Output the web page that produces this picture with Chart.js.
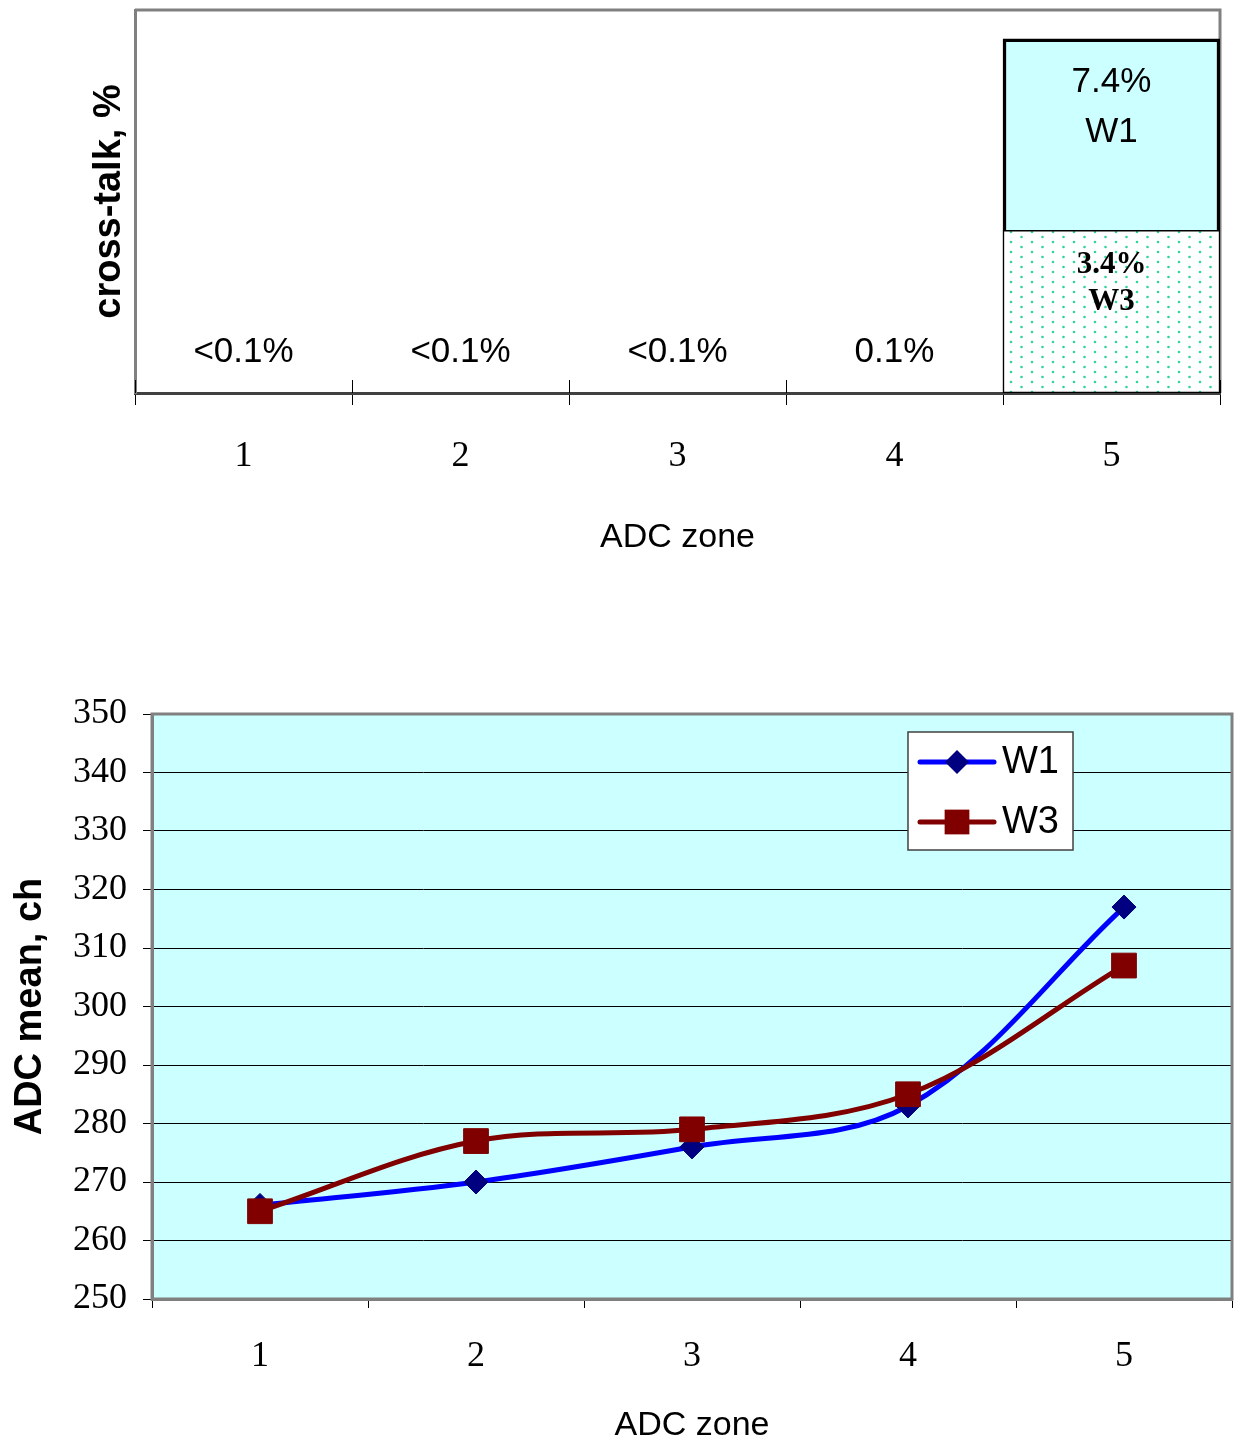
<!DOCTYPE html>
<html>
<head>
<meta charset="utf-8">
<script src="https://cdn.jsdelivr.net/npm/chart.js@4.4.1/dist/chart.umd.min.js"></script>
<style>
  body { margin: 0; background: #fff; }
  #top { position: absolute; left: 0; top: 0; width: 1235px; height: 580px; }
  #bottom { position: absolute; left: 0; top: 580px; width: 1235px; height: 863px; }
</style>
</head>
<body>
<div id="top"><canvas id="crossTalk"></canvas></div>
<div id="bottom"><canvas id="adcMean"></canvas></div>
<script>
// ADC zones
const zones = ['1', '2', '3', '4', '5'];

// cross-talk, %
const w1Cross = [null, null, null, null, 7.4];
const w3Cross = [null, null, null, null, 3.4];
const smallCross = ['<0.1%', '<0.1%', '<0.1%', '0.1%', ''];

// ADC mean, ch
const w1Mean = [266, 270, 276, 283, 317];
const w3Mean = [265, 277, 279, 285, 307];
const meanMin = 250, meanMax = 350, meanStep = 10;

const SERIF = '"Liberation Serif", "Times New Roman", serif';
const SANS = '"Liberation Sans", Arial, sans-serif';
const GRAY = '#808080';

function dotPattern() {
  const c = document.createElement('canvas');
  c.width = 21; c.height = 10;
  const g = c.getContext('2d');
  g.fillStyle = '#fff';
  g.fillRect(0, 0, 21, 10);
  g.fillStyle = '#2fd4a2';
  [[3, 2], [13.5, 7]].forEach(([x, y]) => {
    g.beginPath(); g.arc(x, y, 1.3, 0, Math.PI * 2); g.fill();
  });
  return g.createPattern(c, 'repeat');
}

// ---------- top: cross-talk ----------
const topPlugin = {
  id: 'topDecor',
  beforeDatasetsDraw(chart) {
    const { ctx, chartArea: a, scales } = chart;
    ctx.save();
    // gray frame (top + right)
    ctx.strokeStyle = GRAY;
    ctx.lineWidth = 3;
    ctx.beginPath();
    ctx.moveTo(a.left, a.top);
    ctx.lineTo(a.right, a.top);
    ctx.lineTo(a.right, a.bottom);
    ctx.stroke();
    // tick marks crossing the axis
    ctx.strokeStyle = '#000';
    ctx.lineWidth = 1;
    const xs = scales.x;
    for (let i = 0; i <= zones.length; i++) {
      const px = Math.round(xs.left + i * (xs.right - xs.left) / zones.length) + 0.5;
      ctx.beginPath();
      ctx.moveTo(px, a.bottom - 13);
      ctx.lineTo(px, a.bottom);
      ctx.stroke();
    }
    ctx.restore();
  },
  afterDatasetsDraw(chart) {
    const { ctx, scales } = chart;
    ctx.save();
    ctx.fillStyle = '#000';
    ctx.textAlign = 'center';
    ctx.textBaseline = 'middle';
    // small values in zones 1-4
    ctx.font = '35px ' + SANS;
    const y0 = scales.y.getPixelForValue(0);
    smallCross.forEach((t, i) => {
      if (t) ctx.fillText(t, scales.x.getPixelForValue(i), y0 - 41);
    });
    // labels inside the zone-5 boxes
    chart.data.datasets.forEach((ds, di) => {
      const meta = chart.getDatasetMeta(di);
      ds.data.forEach((v, i) => {
        if (v == null) return;
        const bar = meta.data[i];
        const lines = [v.toFixed(1) + '%', ds.label];
        if (di === 0) {
          ctx.font = '35px ' + SANS;
          ctx.fillText(lines[0], bar.x, bar.y + 44);
          ctx.fillText(lines[1], bar.x, bar.y + 94);
        } else {
          ctx.font = 'bold 31px ' + SERIF;
          ctx.fillText(lines[0], bar.x, bar.y + 35);
          ctx.fillText(lines[1], bar.x, bar.y + 72);
        }
      });
    });
    ctx.restore();
  }
};

new Chart(document.getElementById('crossTalk'), {
  type: 'bar',
  data: {
    labels: zones,
    datasets: [
      {
        label: 'W1',
        data: w1Cross,
        backgroundColor: '#ccffff',
        borderColor: '#000',
        borderWidth: 3.5,
        borderSkipped: false,
        order: 1
      },
      {
        label: 'W3',
        data: w3Cross,
        backgroundColor: dotPattern(),
        borderColor: '#000',
        borderWidth: 1.5,
        borderSkipped: false,
        order: 0
      }
    ]
  },
  options: {
    responsive: true,
    maintainAspectRatio: false,
    animation: false,
    layout: { autoPadding: false, padding: { top: 10, right: 15, bottom: 17, left: 0 } },
    datasets: { bar: { grouped: false, barPercentage: 1, categoryPercentage: 1 } },
    plugins: { legend: { display: false }, tooltip: { enabled: false } },
    scales: {
      x: {
        grid: { display: true, drawOnChartArea: false, offset: true, tickLength: 12, color: '#000', lineWidth: 1 },
        border: { color: '#404040', width: 3 },
        ticks: { color: '#000', padding: 30, font: { family: SERIF, size: 36 } },
        title: { display: true, text: 'ADC zone', color: '#000', padding: { top: 0, bottom: 5 }, font: { family: SANS, size: 34 } },
        afterFit: s => { s.height = 170; }
      },
      y: {
        min: 0,
        max: 8,
        grid: { display: false },
        border: { color: GRAY, width: 3 },
        ticks: { display: false },
        title: { display: true, text: 'cross-talk, %', color: '#000', padding: { top: 87, bottom: 0 }, font: { family: SANS, size: 38, weight: 'bold' } },
        afterFit: s => { s.width = 135; }
      }
    }
  },
  plugins: [topPlugin]
});

// ---------- bottom: ADC mean ----------
function drawMarker(ctx, style, x, y, r, color) {
  ctx.fillStyle = color;
  ctx.beginPath();
  if (style === 'rectRot') {
    ctx.moveTo(x, y - r); ctx.lineTo(x + r, y); ctx.lineTo(x, y + r); ctx.lineTo(x - r, y);
  } else {
    const s = r * Math.SQRT1_2;
    ctx.rect(x - s, y - s, 2 * s, 2 * s);
  }
  ctx.closePath();
  ctx.fill();
}

const bottomPlugin = {
  id: 'bottomDecor',
  beforeDraw(chart) {
    const { ctx, chartArea: a } = chart;
    ctx.save();
    ctx.fillStyle = '#ccffff';
    ctx.fillRect(a.left, a.top, a.right - a.left, a.bottom - a.top);
    ctx.restore();
  },
  beforeDatasetsDraw(chart) {
    const { ctx, chartArea: a } = chart;
    ctx.save();
    ctx.strokeStyle = GRAY;
    ctx.lineWidth = 3;
    ctx.strokeRect(a.left, a.top, a.right - a.left, a.bottom - a.top);
    ctx.restore();
  },
  afterDraw(chart) {
    const { ctx, chartArea: a } = chart;
    const bx = a.left + 756, by = a.top + 18, bw = 165, bh = 118;
    ctx.save();
    ctx.fillStyle = '#fff';
    ctx.fillRect(bx, by, bw, bh);
    ctx.strokeStyle = '#404040';
    ctx.lineWidth = 1.5;
    ctx.strokeRect(bx, by, bw, bh);
    chart.data.datasets.forEach((ds, i) => {
      const ry = by + 30 + i * 60;
      ctx.strokeStyle = ds.borderColor;
      ctx.lineWidth = 5;
      ctx.lineCap = 'round';
      ctx.beginPath();
      ctx.moveTo(bx + 12, ry);
      ctx.lineTo(bx + 86, ry);
      ctx.stroke();
      drawMarker(ctx, ds.pointStyle, bx + 49, ry, ds.pointRadius, ds.pointBackgroundColor);
      ctx.fillStyle = '#000';
      ctx.font = '38px ' + SANS;
      ctx.textAlign = 'left';
      ctx.textBaseline = 'middle';
      ctx.fillText(ds.label, bx + 94, ry + 1);
    });
    ctx.restore();
  }
};

new Chart(document.getElementById('adcMean'), {
  type: 'line',
  data: {
    labels: zones,
    datasets: [
      {
        label: 'W1',
        data: w1Mean,
        borderColor: '#0000ff',
        borderWidth: 5,
        tension: 0.35,
        pointStyle: 'rectRot',
        pointRadius: 12,
        pointBackgroundColor: '#000080',
        pointBorderColor: '#000080',
        pointBorderWidth: 1,
        order: 1
      },
      {
        label: 'W3',
        data: w3Mean,
        borderColor: '#800000',
        borderWidth: 5,
        tension: 0.35,
        pointStyle: 'rect',
        pointRadius: 17.5,
        pointBackgroundColor: '#800000',
        pointBorderColor: '#800000',
        pointBorderWidth: 1,
        order: 0
      }
    ]
  },
  options: {
    responsive: true,
    maintainAspectRatio: false,
    animation: false,
    layout: { autoPadding: false, padding: { top: 134, right: 3, bottom: 0, left: 0 } },
    plugins: { legend: { display: false }, tooltip: { enabled: false } },
    scales: {
      x: {
        offset: true,
        grid: { display: true, drawOnChartArea: false, offset: true, tickLength: 9, color: '#000', lineWidth: 1 },
        border: { color: GRAY, width: 3 },
        ticks: { color: '#000', padding: 27, font: { family: SERIF, size: 36 } },
        title: { display: true, text: 'ADC zone', color: '#000', padding: { top: 0, bottom: 0 }, font: { family: SANS, size: 34, lineHeight: 1 } },
        afterFit: s => { s.height = 144; }
      },
      y: {
        min: meanMin,
        max: meanMax,
        grid: { color: '#000', lineWidth: 1, tickLength: 9 },
        border: { color: GRAY, width: 3 },
        ticks: { stepSize: meanStep, color: '#000', padding: 16, font: { family: SERIF, size: 36 } },
        title: { display: true, text: 'ADC mean, ch', color: '#000', padding: { top: 8, bottom: 0 }, font: { family: SANS, size: 38, weight: 'bold' } },
        afterFit: s => { s.width = 152; }
      }
    }
  },
  plugins: [bottomPlugin]
});
</script>
</body>
</html>
